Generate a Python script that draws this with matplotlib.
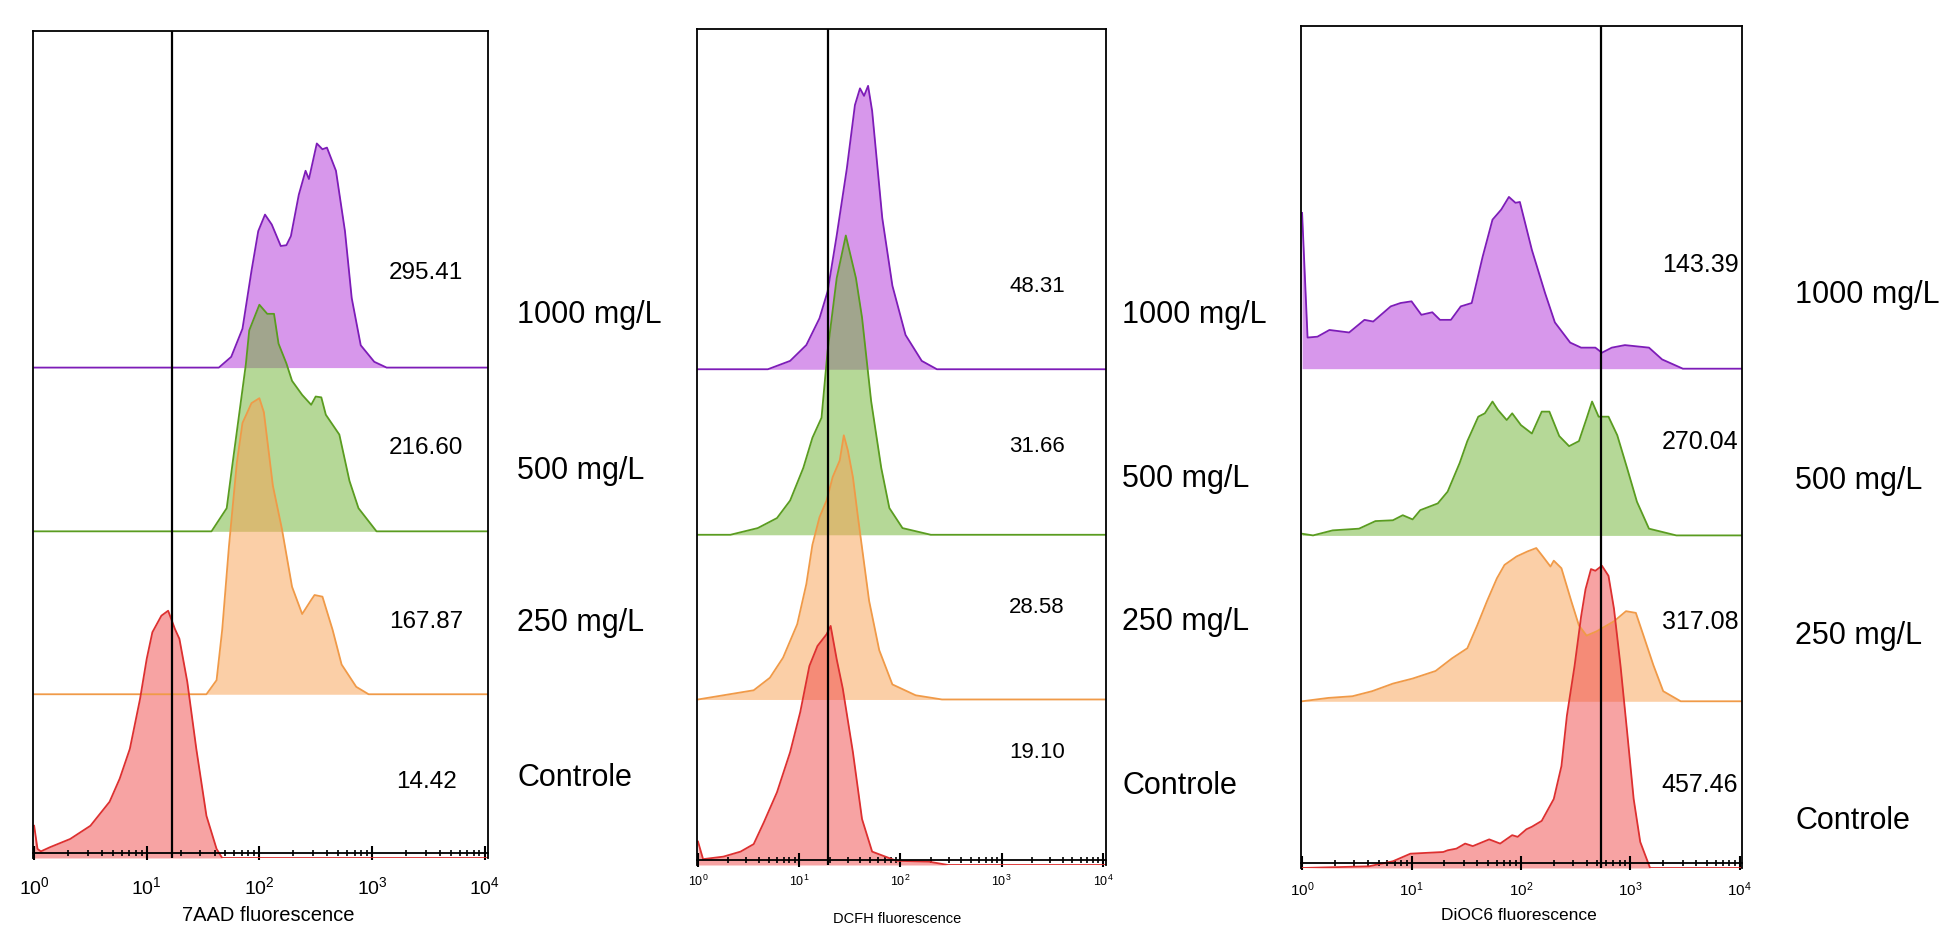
import numpy as np
import matplotlib.pyplot as plt
from matplotlib.ticker import LogLocator, NullFormatter

plt.rcParams['font.family'] = ['Liberation Sans', 'DejaVu Sans']
plt.rcParams['mathtext.fontset'] = 'custom'
plt.rcParams['mathtext.rm'] = 'Liberation Sans'
plt.rcParams['mathtext.it'] = 'Liberation Sans:italic'

W, H = 1942, 928

groups = ["1000 mg/L", "500 mg/L", "250 mg/L", "Controle"]
line_colors = ["#7d1cb8", "#5a9c20", "#f09a48", "#dd3030"]
fill_colors = ["#b030d8", "#6cb330", "#f9a050", "#f04848"]

# mean fluorescence shown inside each panel (top trace first)
mfi_7aad = ["295.41", "216.60", "167.87", "14.42"]
mfi_dcfh = ["48.31", "31.66", "28.58", "19.10"]
mfi_dioc = ["143.39", "270.04", "317.08", "457.46"]

xlabels = ["7AAD fluorescence", "DCFH fluorescence", "DiOC6 fluorescence"]
gate_decade = [1.22, 1.28, 2.73]   # vertical marker, log10 units

# histograms: x in log10 decades, h in axes-height units
p1_1000_x = [0, 1.64, 1.75, 1.85, 1.93, 1.99, 2.05, 2.11, 2.19, 2.24, 2.28, 2.35, 2.41, 2.44,
             2.51, 2.56, 2.60, 2.68, 2.76, 2.82, 2.90, 3.02, 3.13, 4.03]
p1_1000_h = [0, 0, .013, .047, .117, .165, .185, .173, .147, .148, .159, .209, .238, .228,
             .271, .264, .266, .238, .165, .084, .027, .007, 0, 0]
p1_500_x = [0, 1.575, 1.71, 1.76, 1.82, 1.88, 1.91, 2.0, 2.07, 2.13, 2.17, 2.24, 2.29, 2.38,
            2.46, 2.50, 2.55, 2.59, 2.71, 2.80, 2.88, 3.04, 4.03]
p1_500_h = [0, 0, .028, .080, .141, .202, .243, .274, .263, .263, .227, .203, .182, .165,
            .153, .163, .162, .141, .117, .061, .028, 0, 0]
p1_250_x = [0, 1.53, 1.62, 1.67, 1.73, 1.80, 1.85, 1.93, 2.0, 2.04, 2.12, 2.20, 2.29, 2.38,
            2.46, 2.49, 2.56, 2.65, 2.73, 2.86, 2.97, 4.03]
p1_250_h = [0, 0, .017, .078, .179, .280, .328, .352, .358, .341, .252, .200, .130, .097,
            .114, .120, .118, .078, .036, .009, 0, 0]
p1_ctrl_x = [0, 0.03, 0.06, 0.14, 0.32, 0.50, 0.67, 0.76, 0.85, 0.94, 1.0, 1.05, 1.13, 1.19,
             1.25, 1.29, 1.36, 1.44, 1.53, 1.62, 1.67, 4.03]
p1_ctrl_h = [.039, .011, .008, .013, .023, .039, .068, .096, .132, .192, .241, .273, .293, .299,
             .277, .265, .213, .132, .051, .011, 0, 0]

p2_1000_x = [0, 0.69, 0.91, 1.07, 1.20, 1.28, 1.37, 1.47, 1.55, 1.60, 1.64, 1.68, 1.72, 1.82,
             1.92, 2.05, 2.21, 2.36, 4.03]
p2_1000_h = [0, 0, .01, .029, .061, .093, .160, .240, .316, .336, .327, .339, .309, .181,
             .100, .041, .010, 0, 0]
p2_500_x = [0, 0.32, 0.59, 0.78, 0.91, 1.04, 1.13, 1.22, 1.28, 1.37, 1.46, 1.56, 1.62, 1.71,
            1.81, 1.89, 2.02, 2.30, 4.03]
p2_500_h = [0, 0, .008, .02, .041, .08, .116, .14, .22, .307, .358, .307, .26, .16,
            .08, .032, .008, 0, 0]
p2_250_x = [0, 0.25, 0.55, 0.71, 0.84, 0.98, 1.07, 1.13, 1.20, 1.27, 1.33, 1.40, 1.44, 1.48,
            1.53, 1.58, 1.69, 1.79, 1.92, 2.15, 2.41, 4.03]
p2_250_h = [0, .005, .011, .026, .05, .09, .138, .185, .218, .238, .266, .286, .316, .298,
            .266, .218, .118, .059, .018, .005, 0, 0]
p2_ctrl_x = [0, 0.05, 0.25, 0.42, 0.55, 0.65, 0.78, 0.91, 1.01, 1.10, 1.18, 1.27, 1.31, 1.37,
             1.43, 1.53, 1.62, 1.72, 1.96, 2.28, 2.47, 4.03]
p2_ctrl_h = [.028, .007, .01, .016, .025, .051, .087, .135, .183, .238, .262, .276, .286, .246,
             .211, .135, .055, .016, .005, .004, 0, 0]

p3_1000_x = [0, 0.05, 0.14, 0.25, 0.43, 0.57, 0.65, 0.81, 0.90, 1.0, 1.09, 1.19, 1.26, 1.36,
             1.45, 1.55, 1.65, 1.74, 1.82, 1.89, 1.95, 1.99, 2.10, 2.22, 2.31, 2.45, 2.55,
             2.68, 2.74, 2.83, 2.95, 3.17, 3.29, 3.48, 4.02]
p3_1000_h = [.185, .037, .038, .046, .043, .058, .056, .074, .078, .080, .064, .067, .058, .058,
             .074, .078, .133, .177, .189, .204, .197, .198, .141, .090, .055, .031, .025,
             .025, .019, .025, .028, .025, .011, 0, 0]
p3_500_x = [0, 0.10, 0.28, 0.52, 0.67, 0.83, 0.92, 1.01, 1.08, 1.24, 1.33, 1.44, 1.51, 1.61,
            1.67, 1.74, 1.79, 1.87, 1.92, 2.0, 2.10, 2.19, 2.26, 2.35, 2.44, 2.53, 2.60,
            2.65, 2.71, 2.80, 2.88, 2.97, 3.06, 3.17, 3.42, 4.02]
p3_500_h = [.002, 0, .006, .008, .017, .018, .024, .019, .030, .038, .052, .086, .112, .141,
            .145, .159, .149, .137, .145, .131, .121, .147, .147, .118, .106, .112, .139,
            .159, .141, .141, .119, .080, .040, .008, 0, 0]
p3_250_x = [0, 0.24, 0.46, 0.64, 0.83, 1.01, 1.22, 1.37, 1.51, 1.60, 1.69, 1.78, 1.85, 1.96,
            2.06, 2.14, 2.20, 2.27, 2.30, 2.37, 2.46, 2.53, 2.60, 2.69, 2.85, 2.96, 3.05,
            3.12, 3.21, 3.30, 3.46, 4.02]
p3_250_h = [0, .004, .006, .012, .021, .027, .036, .051, .063, .090, .119, .146, .162, .172,
            .178, .182, .172, .160, .167, .158, .119, .090, .078, .083, .095, .107, .105,
            .078, .043, .012, 0, 0]
p3_ctrl_x = [0, 0.61, 0.83, 0.99, 1.29, 1.33, 1.41, 1.49, 1.56, 1.71, 1.81, 1.92, 1.97, 2.05,
             2.10, 2.19, 2.30, 2.37, 2.42, 2.49, 2.55, 2.59, 2.64, 2.68, 2.74, 2.80, 2.85,
             2.91, 2.97, 3.03, 3.09, 3.18, 4.02]
p3_ctrl_h = [0, .002, .008, .017, .019, .021, .023, .029, .026, .034, .029, .039, .037, .046,
             .049, .056, .082, .121, .181, .240, .299, .331, .355, .353, .359, .347, .308,
             .240, .162, .082, .031, 0, 0]

panels = [
    [(p1_1000_x, p1_1000_h), (p1_500_x, p1_500_h), (p1_250_x, p1_250_h), (p1_ctrl_x, p1_ctrl_h)],
    [(p2_1000_x, p2_1000_h), (p2_500_x, p2_500_h), (p2_250_x, p2_250_h), (p2_ctrl_x, p2_ctrl_h)],
    [(p3_1000_x, p3_1000_h), (p3_500_x, p3_500_h), (p3_250_x, p3_250_h), (p3_ctrl_x, p3_ctrl_h)],
]
mfis = [mfi_7aad, mfi_dcfh, mfi_dioc]

# layout, in pixels of the reference
offsets = [0.593, 0.395, 0.198, 0.0]
boxes = [(33, 488, 32, 859), (697, 1106, 30, 866), (1301, 1742, 27, 869)]
xmax_dec = [4.03, 4.03, 4.02]
tick_fs = [14, 9, 11]
tick_pad = [11, 4, 7]
mfi_fs = [17.5, 16, 18]
mfi_px = [426, 1037, 1700]
mfi_py = [[273, 448, 622, 782], [287, 447, 608, 753], [265, 442, 622, 785]]
grp_px = [517, 1122, 1795]
grp_py = [[315, 471, 623, 778], [315, 479, 622, 786], [295, 481, 636, 821]]
xlab_fs = [14.5, 10.5, 12.5]
xlab_px = [268, 897, 1519]
# the reference crops these labels at the bottom edge; keep them just inside
xlab_py = [906, 912, 908]


def fx(px):
    return px / W


def fy(py):
    return 1 - py / H


fig = plt.figure(figsize=(W / 100, H / 100), dpi=100)

for i, traces in enumerate(panels):
    x0, x1, y0, y1 = boxes[i]
    ax = fig.add_axes([fx(x0), fy(y1), (x1 - x0) / W, (y1 - y0) / H])
    for k, (xd, hh) in enumerate(traces):
        xv = 10 ** np.array(xd)
        yv = offsets[k] + np.array(hh)
        ax.fill_between(xv, offsets[k], yv, color=fill_colors[k], alpha=0.5, lw=0)
        ax.plot(xv, yv, color=line_colors[k], lw=1.3)
    ax.axvline(10 ** gate_decade[i], color="black", lw=1.6)

    ax.set_xscale("log")
    ax.set_xlim(10 ** -0.01, 10 ** xmax_dec[i])
    ax.set_ylim(0, 1)
    ax.set_yticks([])
    ax.xaxis.set_major_locator(LogLocator(base=10, numticks=10))
    ax.xaxis.set_minor_locator(LogLocator(base=10, subs=np.arange(2, 10), numticks=50))
    ax.xaxis.set_minor_formatter(NullFormatter())
    ax.tick_params(axis="x", which="major", direction="inout", length=10, width=1.5,
                   labelsize=tick_fs[i], pad=tick_pad[i])
    ax.tick_params(axis="x", which="minor", direction="inout", length=5, width=1.2)
    ax.spines["bottom"].set_position(("axes", 0.006))
    for s in ax.spines.values():
        s.set_linewidth(1.3)

    for k in range(4):
        fig.text(fx(mfi_px[i]), fy(mfi_py[i][k]), mfis[i][k], fontsize=mfi_fs[i],
                 ha="center", va="center")
        fig.text(fx(grp_px[i]), fy(grp_py[i][k]), groups[k], fontsize=22,
                 ha="left", va="center")
    fig.text(fx(xlab_px[i]), fy(xlab_py[i]), xlabels[i], fontsize=xlab_fs[i],
             ha="center", va="top")

fig.savefig("out.png", dpi=100)
